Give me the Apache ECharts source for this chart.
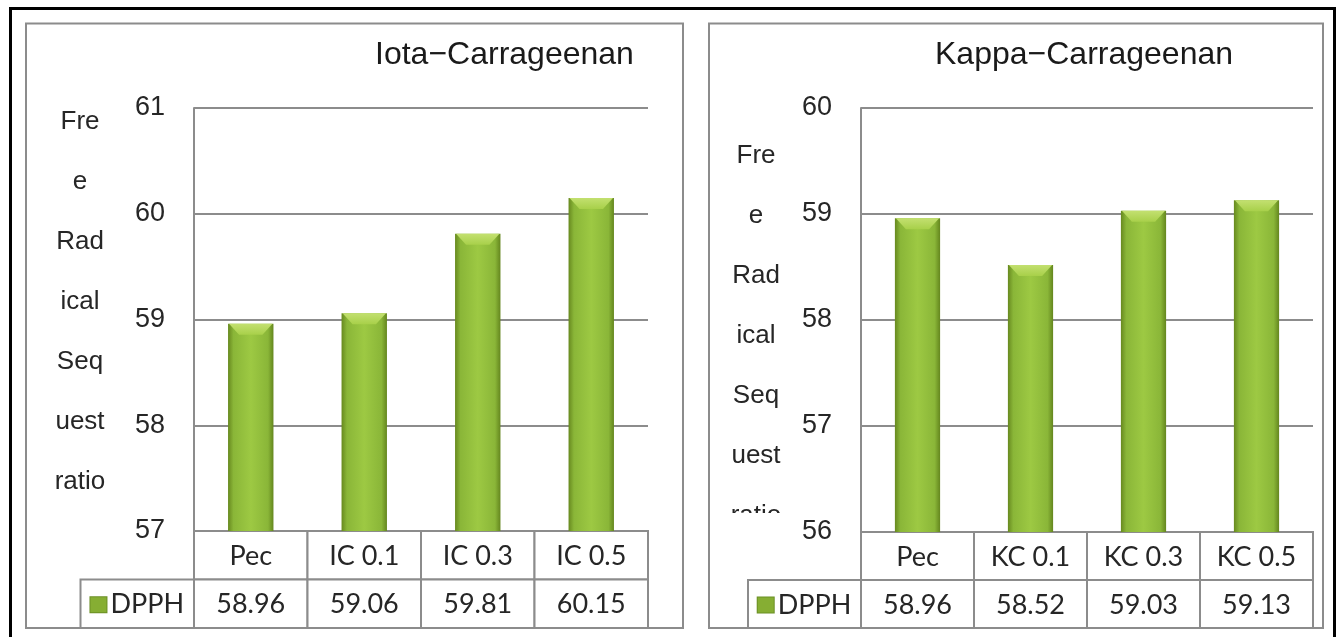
<!DOCTYPE html>
<html>
<head>
<meta charset="utf-8">
<script src="https://cdn.jsdelivr.net/npm/echarts@6/dist/echarts.min.js"></script>
<style>
  html, body { margin: 0; padding: 0; background: #fff; }
  #chart { width: 1338px; height: 637px; }
</style>
</head>
<body>
<div id="chart"></div>
<script>
  // data
  const iotaCats = ['Pec', 'IC 0.1', 'IC 0.3', 'IC 0.5'];
  const iotaDpph = [58.96, 59.06, 59.81, 60.15];
  const kappaCats = ['Pec', 'KC 0.1', 'KC 0.3', 'KC 0.5'];
  const kappaDpph = [58.96, 58.52, 59.03, 59.13];
  const iotaAxis = [57, 61];
  const kappaAxis = [56, 60];
  const seriesName = 'DPPH';
  const titles = ['Iota−Carrageenan', 'Kappa−Carrageenan'];
  const yNameLines = ['Fre', 'e', 'Rad', 'ical', 'Seq', 'uest', 'ratio'];

  const gridColor = '#8c8c8c';
  const textColor = '#262626';
  const tableFont = 'Lato';

  const barFill = {
    type: 'linear', x: 0, y: 0, x2: 1, y2: 0,
    colorStops: [
      { offset: 0, color: '#67891f' },
      { offset: 0.12, color: '#8ab638' },
      { offset: 0.5, color: '#9dc943' },
      { offset: 0.88, color: '#8ab638' },
      { offset: 1, color: '#64861e' }
    ]
  };

  // table cells: column 0 is the legend column, columns 1..4 the categories
  function tableCells(cats, vals) {
    const cells = [{ col: 0, row: 1, text: seriesName, legend: true }];
    cats.forEach((c, i) => {
      cells.push({ col: i + 1, row: 0, text: c });
      cells.push({ col: i + 1, row: 1, text: vals[i].toFixed(2) });
    });
    return cells;
  }
  const iotaCells = tableCells(iotaCats, iotaDpph);
  const kappaCells = tableCells(kappaCats, kappaDpph);

  function cellRenderer(cells) {
    return function (params, api) {
      const cell = cells[params.dataIndex];
      const c = api.coord([api.value(0), api.value(1)]);
      const s = api.size([1, 1]);
      return {
        type: 'group',
        children: [{
          type: 'rect',
          shape: { x: c[0] - s[0] / 2, y: c[1] - s[1] / 2, width: s[0], height: s[1] },
          style: { fill: '#fff', stroke: gridColor, lineWidth: 2 }
        }, {
          type: 'text',
          x: c[0], y: c[1] + 1,
          style: cell.legend ? {
            text: '{i|}{t|' + cell.text + '}',
            align: 'center', verticalAlign: 'middle',
            textAlign: 'center', textVerticalAlign: 'middle',
            rich: {
              i: { width: 16, height: 15, backgroundColor: '#86ae33', borderColor: '#6b8f25', borderWidth: 1 },
              t: { fontFamily: tableFont, fontSize: 27, fill: textColor, color: textColor, padding: [0, 0, 0, 4] }
            }
          } : {
            text: cell.text,
            align: 'center', verticalAlign: 'middle',
            textAlign: 'center', textVerticalAlign: 'middle',
            font: '27px ' + tableFont, fill: textColor
          }
        }]
      };
    };
  }

  // bevelled top of each bar
  function renderCap(params, api) {
    const top = api.coord([api.value(0), api.value(1)]);
    const w = api.size([1, 0])[0] * 0.4;
    const d = 11;
    const x0 = top[0] - w / 2, x1 = top[0] + w / 2, y = top[1];
    return {
      type: 'polygon',
      shape: { points: [[x0 + 1, y], [x1 - 1, y], [x1 - d, y + d], [x0 + d, y + d]] },
      style: {
        fill: {
          type: 'linear', x: 0, y: 0, x2: 0, y2: 1,
          colorStops: [{ offset: 0, color: '#c3e070' }, { offset: 1, color: '#a8d04a' }]
        }
      }
    };
  }

  const chart = echarts.init(document.getElementById('chart'));

  const yAxisBase = (range) => ({
    type: 'value', min: range[0], max: range[1], interval: 1,
    axisLine: { show: true, lineStyle: { color: gridColor, width: 2 } },
    axisTick: { show: false },
    axisLabel: { fontFamily: 'Liberation Sans', fontSize: 27, color: textColor, margin: 29 },
    splitLine: { lineStyle: { color: gridColor, width: 2 } }
  });
  const hiddenCat = (data, gridIndex) => ({
    type: 'category', data: data, gridIndex: gridIndex,
    axisLine: { show: false }, axisTick: { show: false },
    axisLabel: { show: false }, splitLine: { show: false }
  });
  const titleStyle = { fontFamily: 'Liberation Sans', fontSize: 32, fontWeight: 'normal', color: '#1a1a1a' };

  const option = {
    animation: false,
    title: [
      { text: titles[0], left: 375, top: 39, padding: 0, textStyle: titleStyle },
      { text: titles[1], left: 935, top: 39, padding: 0, textStyle: titleStyle }
    ],
    grid: [
      { left: 194, top: 108, width: 454, height: 423 },
      { left: 80.5, top: 531, width: 567.5, height: 97 },
      { left: 861, top: 108, width: 452, height: 424 },
      { left: 748, top: 532, width: 565, height: 96 }
    ],
    xAxis: [
      hiddenCat(iotaCats, 0),
      hiddenCat([''].concat(iotaCats), 1),
      hiddenCat(kappaCats, 2),
      hiddenCat([''].concat(kappaCats), 3)
    ],
    yAxis: [
      Object.assign(yAxisBase(iotaAxis), { gridIndex: 0 }),
      { type: 'category', data: ['cat', 'val'], inverse: true, gridIndex: 1, show: false },
      Object.assign(yAxisBase(kappaAxis), { gridIndex: 2 }),
      { type: 'category', data: ['cat', 'val'], inverse: true, gridIndex: 3, show: false }
    ],
    series: [
      { name: seriesName, type: 'bar', xAxisIndex: 0, yAxisIndex: 0, barWidth: '40%',
        data: iotaDpph, itemStyle: { color: barFill } },
      { type: 'custom', xAxisIndex: 0, yAxisIndex: 0, renderItem: renderCap,
        data: iotaDpph.map((v, i) => [i, v]), z: 3 },
      { type: 'custom', xAxisIndex: 1, yAxisIndex: 1, renderItem: cellRenderer(iotaCells),
        data: iotaCells.map(c => [c.col, c.row]) },
      { name: seriesName, type: 'bar', xAxisIndex: 2, yAxisIndex: 2, barWidth: '40%',
        data: kappaDpph, itemStyle: { color: barFill } },
      { type: 'custom', xAxisIndex: 2, yAxisIndex: 2, renderItem: renderCap,
        data: kappaDpph.map((v, i) => [i, v]), z: 3 },
      { type: 'custom', xAxisIndex: 3, yAxisIndex: 3, renderItem: cellRenderer(kappaCells),
        data: kappaCells.map(c => [c.col, c.row]) }
    ],
    graphic: [
      { type: 'rect', z: 0, shape: { x: 10.5, y: 8.5, width: 1324, height: 700 },
        style: { fill: 'none', stroke: '#000', lineWidth: 3 } },
      { type: 'rect', z: 0, shape: { x: 26, y: 23.5, width: 657, height: 604.5 },
        style: { fill: 'none', stroke: gridColor, lineWidth: 2 } },
      { type: 'rect', z: 0, shape: { x: 709, y: 23.5, width: 614, height: 604.5 },
        style: { fill: 'none', stroke: gridColor, lineWidth: 2 } },
      { type: 'text', z: 5, x: 80, y: 92,
        style: { text: yNameLines.join('\n'), font: '26px "Liberation Sans"', lineHeight: 60,
          align: 'center', textAlign: 'center', verticalAlign: 'top', textVerticalAlign: 'top', fill: textColor } },
      { type: 'text', z: 5, x: 756, y: 126,
        style: { text: yNameLines.join('\n'), font: '26px "Liberation Sans"', lineHeight: 60,
          align: 'center', textAlign: 'center', verticalAlign: 'top', textVerticalAlign: 'top', fill: textColor } },
      // the plot box cuts the last line in the right panel
      { type: 'rect', z: 6, shape: { x: 712, y: 513, width: 86, height: 20 }, style: { fill: '#fff' } }
    ]
  };
  chart.setOption(option);
</script>
</body>
</html>
